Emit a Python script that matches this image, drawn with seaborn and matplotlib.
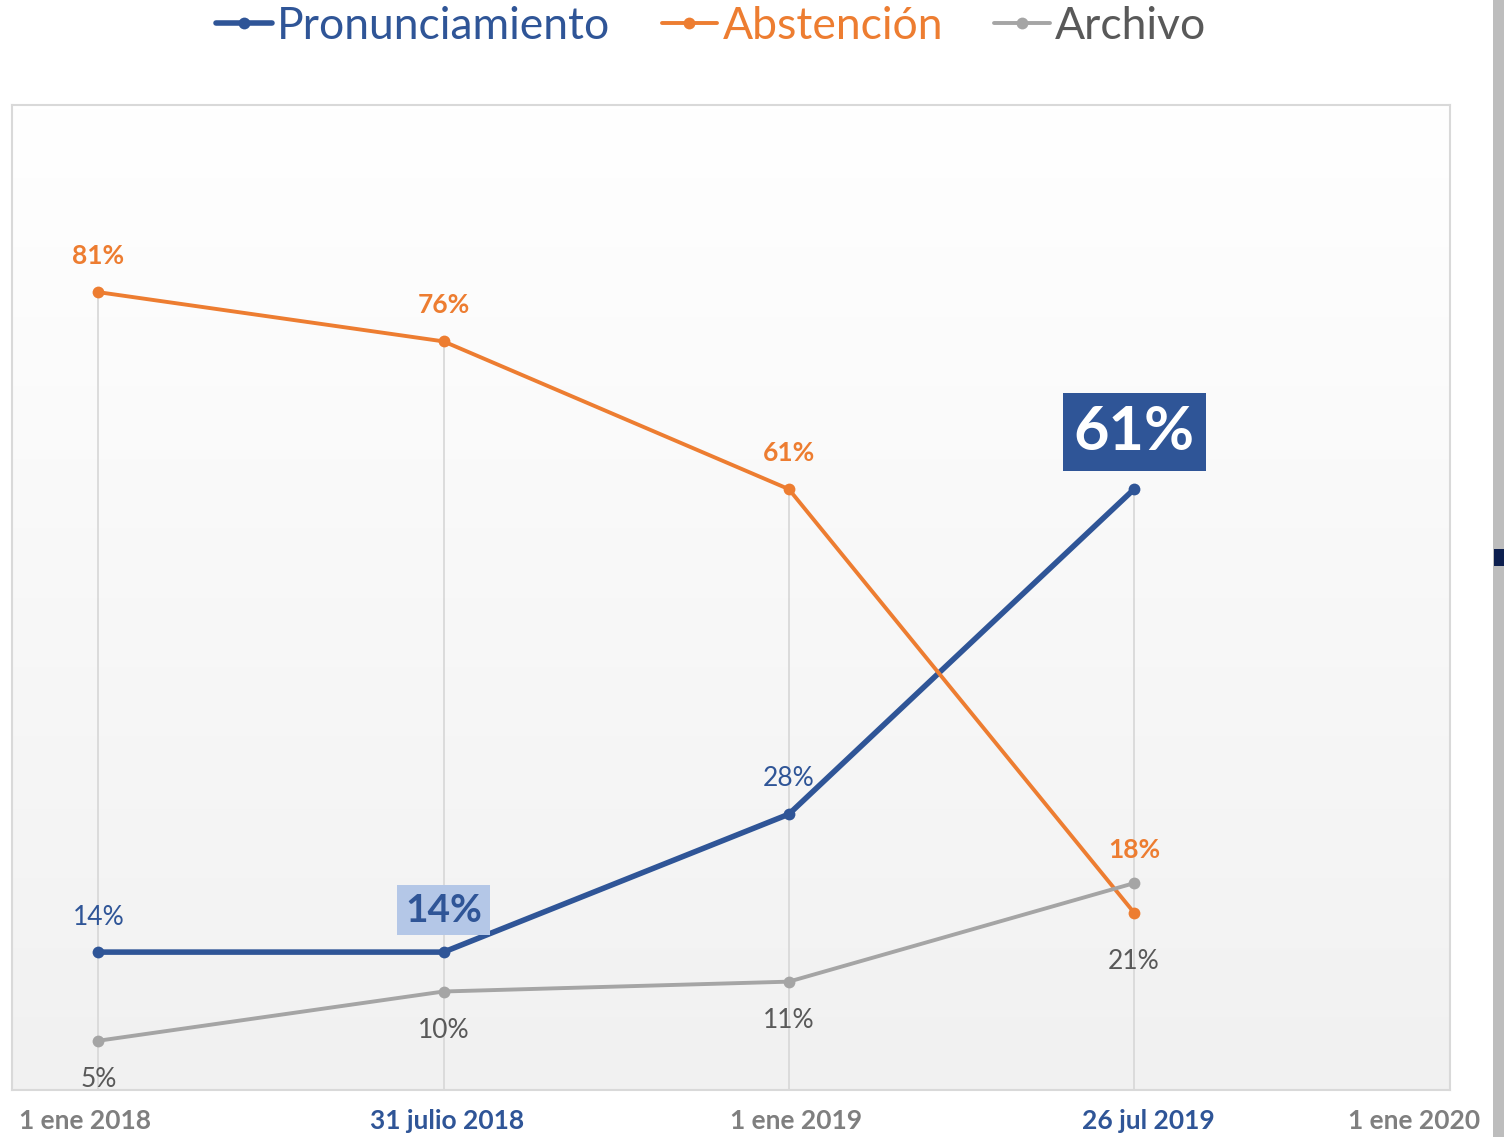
import matplotlib.pyplot as plt
import numpy as np
import pandas as pd
import seaborn as sns
from matplotlib.patches import Rectangle

# values (percent)
points = [0, 1, 2, 3]
pronunciamiento = [14, 14, 28, 61]
abstencion = [81, 76, 61, 18]
archivo = [5, 10, 11, 21]
tick_labels = ["1 ene 2018", "31 julio 2018", "1 ene 2019", "26 jul 2019", "1 ene 2020"]
tick_highlight = [False, True, False, True, False]

BLUE = "#2F5597"
ORANGE = "#ED7D31"
GRAY = "#A5A5A5"
TXT_GRAY = "#595959"

df = pd.DataFrame({
    "x": points * 3,
    "value": pronunciamiento + abstencion + archivo,
    "serie": ["Pronunciamiento"] * 4 + ["Abstención"] * 4 + ["Archivo"] * 4,
})

sns.set_theme(style="white")
plt.rcParams["font.family"] = ["Lato", "DejaVu Sans"]

fig = plt.figure(figsize=(15.04, 11.37), dpi=100)
ax = fig.add_axes([12 / 1504, 1 - 1090 / 1137, (1450 - 12) / 1504, (1090 - 105) / 1137])

xlim = (-0.25, 3.915)
ylim = (0, 100)

# background gradient: white at top to light gray at the bottom
grad = np.linspace(0, 1, 256).reshape(-1, 1)
ax.imshow(grad, extent=[xlim[0], xlim[1], ylim[0], ylim[1]], aspect="auto",
          cmap=plt.matplotlib.colors.LinearSegmentedColormap.from_list("bg", ["#f1f1f1", "#ffffff"]),
          origin="lower", zorder=0)

# drop lines from the highest point of each date
tops = [max(a, b, c) for a, b, c in zip(pronunciamiento, abstencion, archivo)]
ax.vlines(points, 0, tops, color="#d9d9d9", lw=1.3, zorder=1)

palette = {"Pronunciamiento": BLUE, "Abstención": ORANGE, "Archivo": GRAY}
widths = {"Pronunciamiento": 4.0, "Abstención": 2.8, "Archivo": 2.8}
for name, color in palette.items():
    sub = df[df["serie"] == name]
    sns.lineplot(data=sub, x="x", y="value", color=color, lw=widths[name], marker="o",
                 markersize=8.5, markeredgewidth=0, ax=ax, label=name, zorder=3)

ax.set_xlim(*xlim)
ax.set_ylim(*ylim)
ax.set_yticks([])
ax.set_xlabel("")
ax.set_ylabel("")
for s in ax.spines.values():
    s.set_color("#d9d9d9")
    s.set_linewidth(1.5)

# x tick labels
ax.set_xticks([-0.04, 1.01, 2.02, 3.04, 3.81])
ax.set_xticklabels(tick_labels)
ax.tick_params(axis="x", length=0, pad=14)
for lab, hl in zip(ax.get_xticklabels(), tick_highlight):
    lab.set_fontsize(19)
    lab.set_fontweight("bold")
    lab.set_color(BLUE if hl else "#7f7f7f")

# data labels
def lbl(x, y, text, dy, color, size=19, weight="normal", box=None):
    ax.annotate(text, (x, y), xytext=(0, dy), textcoords="offset pixels",
                ha="center", va="center", fontsize=size, color=color,
                fontweight=weight, bbox=box, zorder=5)

lbl(0, pronunciamiento[0], f"{pronunciamiento[0]}%", 35, BLUE)
lbl(1, pronunciamiento[1], f"{pronunciamiento[1]}%", 42, BLUE, size=28, weight="bold",
    box=dict(boxstyle="square,pad=0.2", fc="#B4C7E7", ec="none"))
lbl(2, pronunciamiento[2], f"{pronunciamiento[2]}%", 36, BLUE)
lbl(3, pronunciamiento[3], f"{pronunciamiento[3]}%", 57, "white", size=44, weight="bold",
    box=dict(boxstyle="square,pad=0.18", fc=BLUE, ec="none"))

for i, (v, dy) in enumerate(zip(abstencion, [36, 36, 36, 63])):
    lbl(i, v, f"{v}%", dy, ORANGE, weight="bold")

for i, (v, dy) in enumerate(zip(archivo, [-39, -39, -39, -78])):
    lbl(i, v, f"{v}%", dy, TXT_GRAY)

# legend at the top
handles, labels = ax.get_legend_handles_labels()
ax.legend_.remove()
leg = fig.legend(handles, labels, loc="upper center", bbox_to_anchor=(0.473, 1.03), ncol=3,
                 frameon=False, fontsize=32, handlelength=1.25, handletextpad=0.12,
                 columnspacing=1.15)
for t, c in zip(leg.get_texts(), [BLUE, ORANGE, TXT_GRAY]):
    t.set_color(c)

# right edge strip as in the screenshot
fig.patches.append(Rectangle((1493 / 1504, 0), 11 / 1504, 1, transform=fig.transFigure,
                             fc="#bdbdbd", ec="none"))
fig.patches.append(Rectangle((1494 / 1504, 1 - 566 / 1137), 10 / 1504, 17 / 1137,
                             transform=fig.transFigure, fc="#0d1f4f", ec="none"))

fig.savefig("out.png", dpi=100)
